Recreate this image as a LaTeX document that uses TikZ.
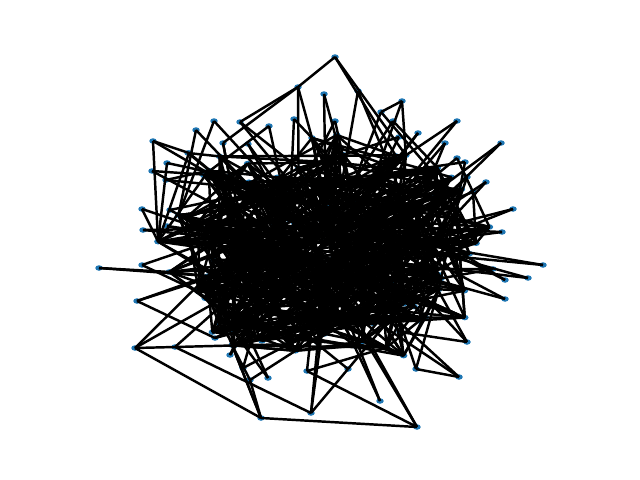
\documentclass[tikz,border=0pt]{standalone}
\usetikzlibrary{calc,shapes.geometric}
\definecolor{nxblue}{HTML}{1F77B4}
\pgfdeclarelayer{background}
\pgfsetlayers{background,main}
\tikzset{
  vertex/.style={
    ellipse,
    fill=nxblue,
    inner sep=0pt,
    minimum width=0.15cm,
    minimum height=0.11cm},
  edge/.style={draw=black, line width=1.4pt},
}
\def\outerlist{335/57, 298/87, 324/94, 358/91, 381/112, 294/119, 335/121,
  214/121, 240/122, 196/130, 269/126, 153/141, 188/153, 223/143, 248/144,
  402/101, 457/121, 393/121, 501/143, 418/133, 399/137, 445/143, 457/158,
  465/162, 467/177, 486/182, 473/192, 513/209, 502/232, 543/265, 528/278,
  505/280, 505/299, 467/342, 459/377, 493/269, 417/427, 311/413, 380/401,
  348/369, 416/369, 307/371, 400/332, 137/301, 135/348, 175/347, 261/418,
  250/380, 215/338, 230/355, 243/368, 268/378, 152/171, 167/163, 166/180,
  142/209, 143/230, 99/268, 142/265, 170/210, 167/226, 168/241, 189/153}

\begin{document}
\begin{tikzpicture}[x=0.02cm, y=-0.02cm]
  \useasboundingbox (0,0) rectangle (640,480);
  \pgfmathsetseed{4242}
  \begin{pgfonlayer}{background}
    \foreach \i in {1,...,170}{
      \pgfmathsetmacro\ang{\i*2.1176+10*rand}
      \pgfmathsetmacro\rad{0.08+0.92*rnd}
      \node[vertex] (c\i) at ({322+180*\rad*cos(\ang)},{252+118*\rad*sin(\ang)}) {};
    }
    \foreach \x/\y [count=\n] in \outerlist
      \node[vertex] (o\n) at (\x,\y) {};
  \end{pgfonlayer}

  \foreach \i in {1,...,170}{
    \foreach \k in {1,...,4}{
      \pgfmathtruncatemacro\j{mod(\i+random(0,80)+129,170)+1}
      \ifnum\i=\j\else\draw[edge] (c\i.center) -- (c\j.center);\fi
    }
    \pgfmathtruncatemacro\j{random(1,170)}
    \ifnum\i=\j\else\draw[edge] (c\i.center) -- (c\j.center);\fi
  }
  \foreach \x/\y [count=\n] in \outerlist{
    \pgfmathsetmacro\th{mod(atan2(\y-252,\x-322)+360,360)}
    \foreach \k in {1,2}{
      \pgfmathtruncatemacro\j{mod(round(\th/2.1176)+random(0,28)+156,170)+1}
      \draw[edge] (o\n.center) -- (c\j.center);
    }
  }
  \foreach \a/\b in {1/2, 2/9, 2/14, 45/46, 45/47, 46/38, 47/37, 47/48,
    42/37, 38/40, 35/41, 12/63, 34/43, 16/5, 44/49}
    \draw[edge] (o\a.center) -- (o\b.center);
\end{tikzpicture}
\end{document}
